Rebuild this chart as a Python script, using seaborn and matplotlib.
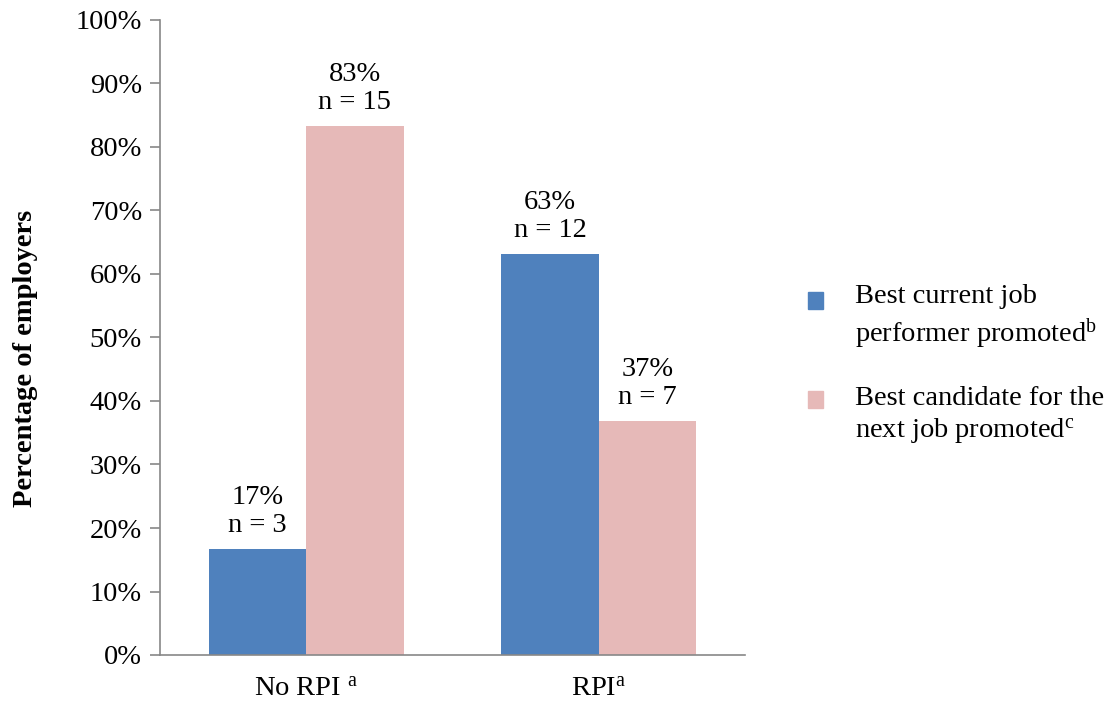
import matplotlib
matplotlib.use("Agg")
import matplotlib.pyplot as plt
import matplotlib.patches as mpatches
from matplotlib.legend_handler import HandlerPatch
import seaborn as sns
import pandas as pd

# Data
groups = ["No RPI", "RPI"]
group_labels = ["No RPI $^{\\mathrm{a}}$", "RPI$^{\\mathrm{a}}$"]
series = ["Best current job performer promoted", "Best candidate for the next job promoted"]
series_labels = ["Best current job\nperformer promoted$^{\\mathrm{b}}$",
                 "Best candidate for the\nnext job promoted$^{\\mathrm{c}}$"]
counts_current = [3, 12]
counts_next = [15, 7]
colors = ["#4F81BD", "#E6B9B8"]

totals = [a + b for a, b in zip(counts_current, counts_next)]
rows = []
for g, c1, c2, t in zip(groups, counts_current, counts_next, totals):
    rows.append({"group": g, "series": series[0], "pct": 100 * c1 / t, "n": c1})
    rows.append({"group": g, "series": series[1], "pct": 100 * c2 / t, "n": c2})
df = pd.DataFrame(rows)

sns.set_theme(style="white")
plt.rcParams["font.family"] = ["Liberation Serif", "DejaVu Serif"]
plt.rcParams["mathtext.fontset"] = "custom"
plt.rcParams["mathtext.rm"] = "Liberation Serif"
plt.rcParams["mathtext.it"] = "Liberation Serif:italic"
plt.rcParams["mathtext.bf"] = "Liberation Serif:bold"
plt.rcParams["text.color"] = "black"
plt.rcParams["axes.labelcolor"] = "black"

FS = 20.5
fig = plt.figure(figsize=(11.15, 7.03), dpi=100)
ax = fig.add_axes([160 / 1115, 48 / 703, 585 / 1115, 635 / 703])

sns.barplot(data=df, x="group", y="pct", hue="series", hue_order=series,
            order=groups, palette=colors, width=0.665, saturation=1,
            ax=ax, legend=False, linewidth=0)

ax.set_xlim(-0.5, 1.5)
ax.set_ylim(0, 100)
ax.set_yticks(range(0, 101, 10))
ax.set_yticklabels([f"{v}%" for v in range(0, 101, 10)], fontsize=FS)
ax.set_xticks([0, 1])
ax.set_xticklabels(group_labels, fontsize=FS)
ax.set_xticks([-0.5, 0.5, 1.5], minor=True)
ax.tick_params(axis="x", which="major", length=0, pad=16, labelcolor="black")
ax.tick_params(axis="x", which="minor", length=7, width=1.2, color="#888888", direction="out")
ax.tick_params(axis="y", length=7, width=1.2, color="#888888", direction="out",
               left=True, pad=6, labelcolor="black")
ax.set_xlabel("")
ax.set_ylabel("")
for side in ["top", "right"]:
    ax.spines[side].set_visible(False)
for side in ["left", "bottom"]:
    ax.spines[side].set_color("#888888")
    ax.spines[side].set_linewidth(1.2)

# Value labels above each bar
for container, s in zip(ax.containers, series):
    sub = df[df["series"] == s].set_index("group").loc[groups]
    for bar, (_, r) in zip(container, sub.iterrows()):
        x = bar.get_x() + bar.get_width() / 2
        ax.annotate(f"{r['pct']:.0f}%\nn = {r['n']}", (x, bar.get_height()),
                    xytext=(0, 8), textcoords="offset points",
                    ha="center", va="bottom", fontsize=FS, linespacing=1.15)

fig.text(26 / 1115, 1 - 358 / 703, "Percentage of employers", rotation=90,
         ha="center", va="center", fontsize=FS, fontweight="bold")


# Legend swatches sit beside the first line of each two-line entry
def top_line_swatch(legend, orig_handle, xdescent, ydescent, width, height, fontsize):
    return mpatches.Rectangle((-xdescent, -ydescent + 0.56 * fontsize), width, height)


handles = [mpatches.Patch(color=c) for c in colors]
leg = fig.legend(handles, series_labels, loc="center left",
                 bbox_to_anchor=(782 / 1115, 1 - 365 / 703), frameon=False,
                 fontsize=FS, handlelength=0.55, handleheight=0.55, handletextpad=1.1,
                 labelspacing=1.25,
                 handler_map={mpatches.Patch: HandlerPatch(patch_func=top_line_swatch)})
for t in leg.get_texts():
    t.set_linespacing(1.3)

fig.savefig("out.png", dpi=100)
